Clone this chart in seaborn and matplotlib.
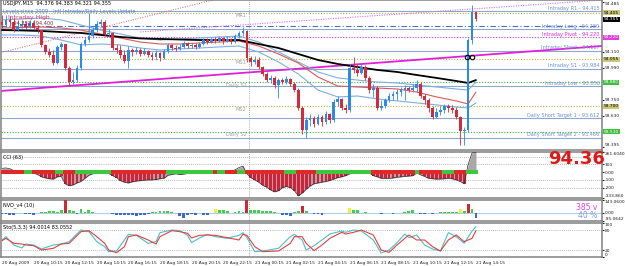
import matplotlib
matplotlib.use("Agg")
import matplotlib.pyplot as plt
import matplotlib.transforms as mtransforms
import numpy as np
import pandas as pd
import seaborn as sns

sns.set_style("white")
plt.rcParams['font.family'] = ['DejaVu Sans']

# ---- price bars (USDJPY M15, 20 Aug 08:15 -> 21 Aug 14:15) ----
first_open = 94.335
closes = [94.312, 94.350, 94.335, 94.274, 94.305, 94.320, 94.297, 94.327, 94.289, 94.274,
          94.162, 94.109, 94.086, 94.026, 94.147, 94.169, 93.989, 93.883, 93.898, 93.989,
          94.169, 94.199, 94.229, 94.274, 94.320, 94.335, 94.244, 94.252, 94.139, 94.124,
          94.086, 94.041, 94.124, 94.109, 94.124, 94.094, 94.117, 94.086, 94.071, 94.102,
          94.064, 94.117, 94.162, 94.139, 94.132, 94.147, 94.177, 94.154, 94.162, 94.147,
          94.169, 94.199, 94.184, 94.207, 94.192, 94.214, 94.192, 94.207, 94.184, 94.229,
          94.252, 94.267, 94.064, 94.034, 94.049, 93.996, 93.944, 93.898, 93.914, 93.861,
          93.898, 93.883, 93.906, 93.868, 93.823, 93.688, 93.523, 93.598, 93.613, 93.568,
          93.620, 93.583, 93.643, 93.598, 93.733, 93.756, 93.688, 93.673, 93.989, 93.974,
          93.951, 93.996, 93.914, 93.823, 93.838, 93.688, 93.703, 93.748, 93.778, 93.793,
          93.808, 93.823, 93.838, 93.823, 93.838, 93.868, 93.778, 93.748, 93.688, 93.620,
          93.658, 93.673, 93.703, 93.688, 93.673, 93.620, 93.515, 93.523, 94.199, 94.410,
          94.355]
highs = [94.387, 94.387, 94.380, 94.365, 94.350, 94.350, 94.335, 94.350, 94.350, 94.312,
         94.274, 94.169, 94.139, 94.124, 94.162, 94.184, 94.169, 94.004, 93.959, 94.011,
         94.184, 94.222, 94.402, 94.297, 94.342, 94.357, 94.350, 94.282, 94.259, 94.169,
         94.162, 94.124, 94.154, 94.139, 94.147, 94.139, 94.139, 94.124, 94.109, 94.124,
         94.109, 94.132, 94.177, 94.169, 94.162, 94.169, 94.192, 94.184, 94.177, 94.177,
         94.184, 94.214, 94.214, 94.222, 94.222, 94.229, 94.222, 94.229, 94.214, 94.244,
         94.267, 94.297, 94.274, 94.079, 94.079, 94.071, 94.004, 93.959, 93.936, 93.929,
         93.914, 93.914, 93.929, 93.914, 93.883, 93.838, 93.703, 93.620, 93.643, 93.628,
         93.643, 93.635, 93.665, 93.650, 93.756, 93.778, 93.763, 93.718, 94.019, 94.071,
         94.019, 94.019, 94.011, 93.929, 93.868, 93.853, 93.748, 93.763, 93.801, 93.816,
         93.831, 93.846, 93.861, 93.853, 93.868, 93.898, 93.883, 93.793, 93.763, 93.703,
         93.688, 93.703, 93.718, 93.718, 93.711, 93.695, 93.628, 93.545, 94.214, 94.462,
         94.410]
lows = [94.289, 94.297, 94.305, 94.259, 94.267, 94.289, 94.282, 94.289, 94.274, 94.252,
        94.147, 94.094, 94.071, 94.011, 94.019, 94.124, 93.974, 93.853, 93.868, 93.883,
        93.974, 94.154, 94.184, 94.214, 94.259, 94.297, 94.229, 94.222, 94.124, 94.102,
        94.064, 94.026, 93.989, 94.079, 94.094, 94.079, 94.086, 94.071, 94.049, 94.049,
        94.041, 94.056, 94.102, 94.124, 94.117, 94.124, 94.139, 94.139, 94.139, 94.132,
        94.139, 94.162, 94.169, 94.177, 94.177, 94.184, 94.169, 94.184, 94.169, 94.177,
        94.214, 94.229, 94.034, 94.004, 94.019, 93.981, 93.929, 93.883, 93.876, 93.838,
        93.763, 93.868, 93.868, 93.853, 93.808, 93.673, 93.492, 93.462, 93.553, 93.545,
        93.560, 93.553, 93.568, 93.575, 93.583, 93.703, 93.673, 93.650, 93.658, 93.951,
        93.929, 93.944, 93.898, 93.801, 93.771, 93.673, 93.673, 93.688, 93.733, 93.748,
        93.748, 93.778, 93.748, 93.808, 93.808, 93.808, 93.763, 93.718, 93.658, 93.605,
        93.613, 93.635, 93.650, 93.658, 93.650, 93.605, 93.410, 93.410, 93.508, 94.169,
        94.342]

# moving averages / bands, read at every 5th bar
ma_idx = [0, 5, 10, 15, 20, 25, 30, 35, 40, 45, 50, 55, 60, 65, 70, 75, 80, 85, 90, 95,
          100, 105, 110, 115, 118, 120]
ma_black = [94.274, 94.271, 94.267, 94.259, 94.252, 94.237, 94.222, 94.211, 94.207, 94.203,
            94.199, 94.199, 94.199, 94.169, 94.139, 94.094, 94.049, 94.019, 93.996, 93.974,
            93.959, 93.936, 93.914, 93.891, 93.876, 93.898]
ma_red = [94.289, 94.293, 94.297, 94.289, 94.274, 94.244, 94.214, 94.184, 94.169, 94.169,
          94.177, 94.184, 94.192, 94.154, 94.094, 94.026, 93.921, 93.853, 93.846, 93.838,
          93.831, 93.808, 93.771, 93.741, 93.718, 93.808]
band_up = [94.350, 94.357, 94.365, 94.350, 94.312, 94.274, 94.244, 94.214, 94.199, 94.207,
           94.214, 94.222, 94.229, 94.184, 94.109, 94.034, 93.959, 93.914, 93.898, 93.883,
           93.876, 93.861, 93.846, 93.831, 93.823, 93.883]
band_dn = [94.237, 94.237, 94.229, 94.199, 94.162, 94.169, 94.162, 94.139, 94.124, 94.132,
           94.139, 94.147, 94.154, 94.109, 94.034, 93.944, 93.823, 93.771, 93.778, 93.756,
           93.741, 93.726, 93.711, 93.695, 93.688, 93.726]

# pivot / target levels
solid_levels = [94.415, 94.280, 94.117, 93.984, 93.850, 93.612, 93.466]
solid_labels = ["Intraday R1 - 94.415", "Intraday Long - 94.280", "Intraday Short - 94.117",
                "Intraday S1 - 93.984", "Intraday Low - 93.850",
                "Daily Short Target 1 - 93.612", "Daily Short Target 2 - 93.466"]
pivot_level = 94.220
pivot_label = "Intraday Pivot - 94.220"
dashdot_level = 94.305
olive_levels = [94.405, 94.055, 93.700]
olive_labels = ["MR1", "MS1", "MS2"]
green_levels = [93.880, 93.510]
green_labels = ["Daily S1", "Daily S2"]
box_prices = [94.405, 94.355, 94.220, 94.055, 93.880, 93.700, 93.510]
box_texts = ["94.405", "94.355", "94.220", "94.055", "93.880", "93.700", "93.510"]
price_ticks = [94.485, 94.110, 93.990, 93.750, 93.630, 93.395]

# trend lines: (bar index, price) end points
trend_magenta = [(-0.3, 93.816), (151.9, 94.154)]
trend_red = [(-0.3, 94.105), (53.4, 94.500)]
trend_pink = [(35.0, 94.260), (151.9, 94.500)]

# CCI(63)
cci = [50, 55, 45, 20, 10, -5, -10, -5, -10, -30,
       -60, -75, -85, -90, -60, -55, -150, -175, -165, -140,
       -120, -80, -40, -20, -10, -5, -10, -15, -45, -70,
       -110, -130, -140, -125, -115, -110, -105, -100, -100, -95,
       -85, -80, -40, -30, -20, -30, -25, -15, -10, -10,
       -5, -10, -5, -5, 5, -5, -10, -5, 5, 30,
       60, 80, -20, -70, -100, -130, -170, -195, -230, -255,
       -240, -200, -185, -200, -237, -306, -270, -222, -180, -150,
       -140, -130, -120, -108, -90, -70, -60, -45, -22, -5,
       -5, 0, -5, -10, -45, -60, -80, -80, -80, -75,
       -65, -60, -55, -50, -45, -10, -35, -55, -80, -85,
       -90, -88, -85, -80, -85, -100, -120, -150, 100, 250,
       255]
cci_trend = ("rrrrrrggrrrrrrggrrrgggggggggrrrrrrrrrrrrrrggggggggggggrggrrrggrrrrrrrrrr"
             "gggrrrrrggggggggggggggrrrrrrrrrrrgrrrrrrgggrrrggg")
cci_ticks = [261.6, 100, 0, -100, -200, -333.86]
cci_tick_labels = ["261.6040", "100", "0.00", "-100", "-200", "-333.860"]

# NVO_v4(10)
nvo = [-20, -20, -30, -25, -10, -5, -20, -20, -25, -5,
       10, 5, 15, 15, 5, 35, 140, 25, 20, -15,
       40, 10, 35, 5, -5, -5, -5, -10, -15, -30,
       -30, -30, -25, -30, -40, -30, -25, -20, 5, 10,
       15, 15, 20, 10, -10, -40, -60, -30, -20, -30,
       -10, -30, -30, -5, 40, 30, 30, 20, -10, 10,
       15, 5, 140, 30, 30, 25, 20, 15, 15, 10,
       -5, -25, -25, -40, 5, 15, 80, 15, -10, -15,
       -20, -30, -5, -5, -5, -5, -5, -5, 50, 30,
       25, -5, 10, -10, -10, -10, -15, -10, -10, -15,
       -10, -5, 5, 20, 30, -5, -15, -15, -10, -20,
       -5, 10, 10, 5, 10, 10, 45, 20, 100, 40,
       -60]
nvo_state = ("bbbbbbbbbbggggggrggbggggbbbbbbbbbbbbbbggggggbbbbbbbbbbygggbgggrgggggggbbbbgg"
             "rgbbbbbbbbbbyggbgbbbbbbbbbgggbbbbbbgggggygrgb")
nvo_ticks = [143.06, 0, -95.0642]
nvo_tick_labels = ["143.0600", "0.00", "-95.0642"]

# Stochastic(5,3,3)
sto_idx = [0, 1, 3, 5, 6, 8, 10, 13, 15, 17, 20, 22, 24, 26, 27, 29, 31, 32, 34, 37,
           39, 40, 43, 45, 47, 48, 50, 52, 54, 57, 60, 61, 62, 64, 66, 70, 73, 74, 76, 77,
           79, 81, 83, 86, 87, 89, 91, 94, 96, 98, 100, 102, 103, 105, 107, 109, 111, 113,
           115, 117, 119, 120]
sto_main = [50, 60, 35, 26, 38, 35, 23, 35, 38, 45, 80, 75, 45, 30, 15, 17, 50, 67, 64, 40,
            45, 72, 80, 78, 64, 42, 56, 67, 60, 55, 64, 72, 57, 15, 17, 25, 60, 67, 50, 20,
            33, 50, 68, 77, 73, 80, 77, 50, 11, 20, 42, 68, 57, 65, 35, 23, 17, 72,
            60, 40, 77, 90]
sto_signal = [48, 55, 40, 38, 35, 33, 20, 25, 38, 40, 75, 78, 60, 40, 20, 12, 30, 60, 65, 50,
              38, 60, 78, 75, 70, 56, 64, 65, 64, 57, 50, 67, 64, 30, 15, 17, 40, 60, 60, 40,
              18, 35, 55, 73, 68, 73, 80, 65, 20, 13, 35, 55, 65, 50, 50, 30, 17, 50,
              65, 45, 55, 78]

time_ticks = list(range(0, 121, 8))
time_labels = ["20 Aug 2009", "20 Aug 10:15", "20 Aug 12:15", "20 Aug 14:15", "20 Aug 16:15",
               "20 Aug 18:15", "20 Aug 20:15", "20 Aug 22:15", "21 Aug 00:15", "21 Aug 02:15",
               "21 Aug 04:15", "21 Aug 06:15", "21 Aug 08:15", "21 Aug 10:15", "21 Aug 12:15",
               "21 Aug 14:15"]
day_break = 62.5

# ---------------------------------------------------------------
W, H = 625, 266
fig = plt.figure(figsize=(W / 100, H / 100), dpi=100)
fig.patch.set_facecolor('white')


def px(x0, y0, x1, y1):
    return [x0 / W, 1 - y1 / H, (x1 - x0) / W, (y1 - y0) / H]


ax = fig.add_axes(px(1, 0, 602, 150))
ax_cci = fig.add_axes(px(1, 152, 602, 198))
ax_nvo = fig.add_axes(px(1, 200, 602, 221))
ax_sto = fig.add_axes(px(1, 223, 602, 257))
xmin, xmax = -0.25, 151.9
TS = 3.6
YS = 3.2


def set_right_ticks(a, ticks, labels):
    a.set_yticks(ticks)
    a.set_yticklabels(labels)
    tl = a.get_yticklabels()
    tl[0].set_va('top')
    tl[-1].set_va('bottom')


for a in (ax, ax_cci, ax_nvo, ax_sto):
    a.set_xlim(xmin, xmax)
    a.set_facecolor('white')
    for s in a.spines.values():
        s.set_color('#808080')
        s.set_linewidth(1.1)
    a.yaxis.tick_right()
    a.tick_params(axis='y', labelsize=YS, length=1.2, pad=0.6, colors='#202020')
    a.axvline(day_break, color='#909090', ls=(0, (1, 1.5)), lw=0.6, zorder=1)
    if a is not ax_sto:
        a.set_xticks([])

# ---- main price panel ----
ax.set_ylim(93.372, 94.5)
set_right_ticks(ax, price_ticks, [f"{p:.3f}" for p in price_ticks])

for p in solid_levels:
    ax.axhline(p, color='#8FA6CF', lw=0.8, zorder=1)
ax.axhline(pivot_level, color='#D040D0', lw=0.8, ls=(0, (1, 1.5)), zorder=1)
ax.axhline(dashdot_level, color='#5070C0', lw=0.8, ls=(0, (5, 2, 1, 2)), zorder=1)
for p in olive_levels:
    ax.axhline(p, color='#B4B450', lw=0.8, ls=(0, (1, 1.5)), zorder=1)
for p in green_levels:
    ax.axhline(p, color='#40B040', lw=0.8, ls=(0, (1, 1.5)), zorder=1)

for (x0, y0), (x1, y1) in [trend_red]:
    ax.plot([x0, x1], [y0, y1], color='#E06060', lw=0.7, ls=(0, (1, 1.5)), zorder=1)
for (x0, y0), (x1, y1) in [trend_pink]:
    ax.plot([x0, x1], [y0, y1], color='#E070E0', lw=0.8, ls=(0, (1, 1.2)), zorder=1)
for (x0, y0), (x1, y1) in [trend_magenta]:
    ax.plot([x0, x1], [y0, y1], color='#E020D8', lw=1.3, zorder=2)

for p, t in zip(solid_levels, solid_labels):
    ax.text(151.3, p + 0.004, t, ha='right', va='bottom', fontsize=TS, color='#6F8FCF')
ax.text(151.3, pivot_level + 0.004, pivot_label, ha='right', va='bottom', fontsize=TS,
        color='#D030D0')
for p, t in zip(olive_levels, olive_labels):
    ax.text(59.2, p - 0.006, t, ha='left', va='top', fontsize=TS, color='#A0A0A0')
for p, t in zip(green_levels, green_labels):
    ax.text(56.8, p - 0.006, t, ha='left', va='top', fontsize=TS, color='#A0A0A0')

# moving averages and envelopes
sns.lineplot(x=ma_idx, y=band_up, ax=ax, color='#7FAEDD', lw=0.8, zorder=3)
sns.lineplot(x=ma_idx, y=band_dn, ax=ax, color='#7FAEDD', lw=0.8, zorder=3)
sns.lineplot(x=ma_idx, y=ma_red, ax=ax, color='#D85A5A', lw=0.8, zorder=3)
sns.lineplot(x=ma_idx, y=ma_black, ax=ax, color='black', lw=1.3, zorder=3)

# candles
bars = pd.DataFrame({'close': closes, 'high': highs, 'low': lows})
bars['open'] = [first_open] + closes[:-1]
bars['idx'] = np.arange(len(bars))
bars['high'] = bars[['high', 'open', 'close']].max(axis=1)
bars['low'] = bars[['low', 'open', 'close']].min(axis=1)
bull = bars['close'] >= bars['open']
cols = np.where(bull, '#2A8BE6', '#D42A3C')
ax.vlines(bars['idx'], bars['low'], bars['high'], colors=cols, lw=0.6, zorder=4)
body = (bars['close'] - bars['open']).abs().clip(lower=0.003)
ax.bar(bars['idx'], body, bottom=bars[['open', 'close']].min(axis=1), width=0.7,
       color=cols, zorder=5, linewidth=0)

# cross marker on trend line
ax.plot([117.6, 119.0], [94.071, 94.071], ls='none', marker='o', ms=3.2, mfc='none',
        mec='black', mew=0.8, zorder=6)

btrans = mtransforms.blended_transform_factory(ax.transAxes, ax.transData)
box_fc = ['#C8C878', 'black', '#E040E0', '#C8C878', '#40C040', '#C8C878', '#40C040']
box_tc = ['black', 'white', 'white', 'black', 'white', 'black', 'white']
for p, t, fc, tc in zip(box_prices, box_texts, box_fc, box_tc):
    ax.text(1.003, p, t, transform=btrans, ha='left', va='center', fontsize=YS, color=tc,
            clip_on=False, zorder=10,
            bbox=dict(boxstyle='square,pad=0.12', fc=fc, ec='none'))


def ftxt(x, y, s, **kw):
    fig.text(x / W, 1 - y / H, s, va='center', **kw)


ftxt(3, 3.5, "USDJPY,M15  94.376 94.383 94.321 94.355", fontsize=TS, color='black')
ftxt(3, 11, "Levels since 2009 - Intl Intraday/Daily Levels Update", fontsize=TS,
     color='#5080D0')
ftxt(8, 17, "Intraday High", fontsize=4.4, color='#E03060')
ftxt(10, 23, "- 94.383 / 94.400", fontsize=TS, color='#703030')

# ---- CCI panel ----
ax_cci.set_ylim(-333.86, 261.6)
set_right_ticks(ax_cci, cci_ticks, cci_tick_labels)
for lv in (200, 100, -100, -200):
    ax_cci.axhline(lv, color='#A0A0A0', lw=0.6, ls=(0, (1, 1.5)), zorder=1)
idx = np.arange(len(cci))
cci_arr = np.array(cci, dtype=float)
ax_cci.fill_between(idx, cci_arr, 0, color='#A8A8A8', lw=0, zorder=2)
neg = cci_arr < -40
ax_cci.bar(idx[neg], cci_arr[neg], width=0.7, color='#D42038', lw=0, zorder=3)
sns.lineplot(x=idx, y=cci_arr, ax=ax_cci, color='#303030', lw=0.5, zorder=4)
trend_cols = ['#E02828' if c == 'r' else '#3CC83C' for c in cci_trend]
ax_cci.bar(idx, 55, bottom=-25, width=1.0, color=trend_cols, lw=0, zorder=5)
ftxt(3, 157, "CCI (63)", fontsize=TS, color='black')
ftxt(577, 159, "94.36", fontsize=13, color='#E01818', fontweight='bold', ha='center')

# ---- NVO panel ----
ax_nvo.set_ylim(-95.0642, 143.06)
set_right_ticks(ax_nvo, nvo_ticks, nvo_tick_labels)
cmap = {'b': '#3A6AD8', 'g': '#40D040', 'y': '#F0F040', 'r': '#D02838'}
ax_nvo.bar(np.arange(len(nvo)), nvo, width=0.72, color=[cmap[c] for c in nvo_state],
           lw=0, zorder=3)
ax_nvo.axhline(0, color='#70A0D0', lw=0.4, zorder=2)
ftxt(3, 205, "NVO_v4 (10)", fontsize=TS, color='black')
ftxt(597, 207, "385 v", fontsize=5.5, color='#E040E0', ha='right')
ftxt(597, 216, "40 %", fontsize=5.5, color='#7C9CE0', ha='right')

# ---- Stochastic panel ----
ax_sto.set_ylim(-1, 101)
set_right_ticks(ax_sto, [100, 80, 20, 0], ["100", "80", "20", "0"])
for lv in (80, 20):
    ax_sto.axhline(lv, color='#A0A0A0', lw=0.6, ls=(0, (1, 1.5)), zorder=1)
sns.lineplot(x=sto_idx, y=sto_main, ax=ax_sto, color='#48C0C8', lw=0.8, zorder=3)
sns.lineplot(x=sto_idx, y=sto_signal, ax=ax_sto, color='#E04040', lw=0.8, zorder=3)
ftxt(3, 228, "Sto(5,3,3) 94.0014 83.0552", fontsize=TS, color='black')

ax_sto.set_xticks(time_ticks)
ax_sto.set_xticklabels(time_labels, ha='left')
ax_sto.tick_params(axis='x', labelsize=3.1, length=2, pad=0.8, colors='#202020',
                   direction='out')

for a in (ax, ax_cci, ax_nvo, ax_sto):
    a.set_xlabel('')
    a.set_ylabel('')
    if a.get_legend():
        a.get_legend().remove()

fig.savefig('out.png', dpi=100, facecolor='white')
